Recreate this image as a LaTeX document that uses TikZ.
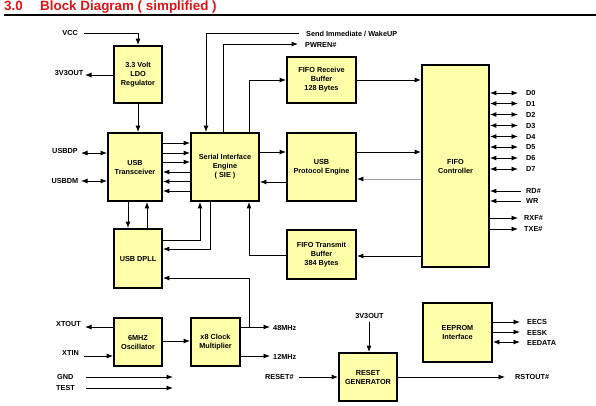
\documentclass[tikz,border=0pt]{standalone}
\usepackage{fontspec}
\setmainfont{Liberation Sans}
\usetikzlibrary{arrows.meta}
\definecolor{blkfill}{RGB}{255,255,170}
\definecolor{titlered}{RGB}{228,18,18}
\begin{document}
\begin{tikzpicture}[x=1pt,y=-1pt,
  blk/.style={draw,line width=1.8pt,fill=blkfill,align=center,font=\fontsize{7.3}{9}\selectfont\bfseries,inner sep=0pt},
  lbl/.style={font=\fontsize{7.3}{9}\selectfont\bfseries,inner sep=0pt},
  arr/.style={line width=0.9pt,-{Latex[length=6.5pt,width=5pt]}},
  darr/.style={line width=0.9pt,{Latex[length=6.5pt,width=5pt]}-{Latex[length=6.5pt,width=5pt]}},
  ttl/.style={font=\fontsize{13.4}{15}\selectfont\bfseries,text=titlered,inner sep=0pt,anchor=base west}]
\useasboundingbox (0,0) rectangle (596,405);
% title
\node[ttl] (tnum) at (4,10.5) {3.0};
\node[ttl] (ttext) at (40,10.5) {Block Diagram ( simplified )};
\coordinate (r1) at (4,14.5);
\coordinate (r2) at (596,14.5);
\draw[line width=2pt] (r1) -- (r2);
% blocks
\node[blk,minimum width=48pt,minimum height=57pt] (ldo) at (138,74.5) {3.3 Volt\\LDO\\Regulator};
\node[blk,minimum width=54pt,minimum height=68pt] (usbt) at (135,167) {USB\\Transceiver};
\node[blk,minimum width=68pt,minimum height=68pt] (sie) at (225,167) {Serial Interface\\Engine\\( SIE )};
\node[blk,minimum width=48pt,minimum height=59pt] (dpll) at (138,258.5) {USB DPLL};
\node[blk,minimum width=69pt,minimum height=46pt] (rx) at (321.5,80) {FIFO Receive\\Buffer\\128 Bytes};
\node[blk,minimum width=69pt,minimum height=68pt] (pe) at (321.5,167) {USB\\Protocol Engine};
\node[blk,minimum width=69pt,minimum height=49pt] (tx) at (321.5,254.5) {FIFO Transmit\\Buffer\\384 Bytes};
\node[blk,minimum width=67pt,minimum height=202pt] (fifo) at (455.5,166) {FIFO\\Controller};
\node[blk,minimum width=48pt,minimum height=48pt] (osc) at (138,342) {6MHZ\\Oscillator};
\node[blk,minimum width=49pt,minimum height=48pt] (mult) at (215.5,342) {x8 Clock\\Multiplier};
\node[blk,minimum width=58pt,minimum height=48pt] (rst) at (368,377) {RESET\\GENERATOR};
\node[blk,minimum width=69pt,minimum height=59pt] (eep) at (457.5,332.5) {EEPROM\\Interface};
% labels
\node[lbl,anchor=east] (lvcc) at (78,33) {VCC};
\node[lbl,anchor=east] (l3v3) at (83.5,73) {3V3OUT};
\node[lbl,anchor=east] (ldp) at (78,150.5) {USBDP};
\node[lbl,anchor=east] (ldm) at (78.5,180.5) {USBDM};
\node[lbl,anchor=west] (lsend) at (306,33.5) {Send Immediate / WakeUP};
\node[lbl,anchor=west] (lpwr) at (305,44.5) {PWREN\#};
\node[lbl,anchor=east] (lxo) at (81,324) {XTOUT};
\node[lbl,anchor=east] (lxi) at (79,353) {XTIN};
\node[lbl,anchor=west] (lgnd) at (57,376.5) {GND};
\node[lbl,anchor=west] (ltest) at (56,387.5) {TEST};
\node[lbl,anchor=west] (l48) at (273,327.5) {48MHz};
\node[lbl,anchor=west] (l12) at (273,356.5) {12MHz};
\node[lbl,anchor=west] (lres) at (265,376.5) {RESET\#};
\node[lbl] (l3v3b) at (369.5,315.5) {3V3OUT};
\node[lbl,anchor=west] (lrso) at (515,377) {RSTOUT\#};
\node[lbl,anchor=west] (lcs) at (527,322) {EECS};
\node[lbl,anchor=west] (lsk) at (527,332.5) {EESK};
\node[lbl,anchor=west] (lda) at (527,343) {EEDATA};
\node[lbl,anchor=west] (lrd) at (526,191) {RD\#};
\node[lbl,anchor=west] (lwr) at (526,201) {WR};
\node[lbl,anchor=west] (lrxf) at (524,218) {RXF\#};
\node[lbl,anchor=west] (ltxe) at (524,228.5) {TXE\#};
\foreach \i/\y in {0/93,1/103.5,2/114.5,3/125.5,4/136.5,5/147,6/158,7/169}{
  \node[lbl,anchor=west] (ld\i) at (526,\y) {D\i};
  \coordinate (d\i) at (518,\y);
  \draw[darr] (fifo.east |- d\i) -- (d\i);
}
% free ends
\coordinate (vcc) at (84,33);
\coordinate (v3o) at (85,75);
\coordinate (dp) at (81,153);
\coordinate (dm) at (81,181);
\coordinate (send) at (299,33);
\coordinate (pwren) at (298,44);
\coordinate (xo) at (85,327);
\coordinate (xi) at (84,356);
\coordinate (g1) at (86,377);
\coordinate (g2) at (173,377);
\coordinate (t1) at (86,388);
\coordinate (t2) at (173,388);
\coordinate (f48) at (270,327);
\coordinate (f12) at (270,356);
\coordinate (j48) at (249,327);
\coordinate (res) at (299,377);
\coordinate (rso) at (505,377);
\coordinate (v3b) at (369,322);
\coordinate (rdx) at (521,191);
\coordinate (wrx) at (521,201);
\coordinate (rxf) at (518,218);
\coordinate (txe) at (518,229);
\coordinate (ecs) at (520,322);
\coordinate (esk) at (520,332);
\coordinate (eda) at (520,342);
% connectors
\draw[arr] (vcc) -| (ldo.north);
\draw[arr] (ldo.west |- v3o) -- (v3o);
\draw[arr] (ldo.south) -- (usbt.north -| ldo.south);
\draw[darr] (dp) -- (usbt.west |- dp);
\draw[darr] (dm) -- (usbt.west |- dm);
\foreach \y in {143,153,162}{\draw[arr] (usbt.east |- 0,\y) -- (sie.west |- 0,\y);}
\foreach \y in {172,181.5,191}{\draw[arr] (sie.west |- 0,\y) -- (usbt.east |- 0,\y);}
\draw[arr] (usbt.south -| 128,0) -- (dpll.north -| 128,0);
\draw[arr] (dpll.north -| 147,0) -- (usbt.south -| 147,0);
\draw[arr] (dpll.east |- 0,240) -| (sie.south -| 200,0);
\draw[arr] (sie.south -| 210,0) |- (dpll.east |- 0,249);
\draw[arr] (send) -| (sie.north -| 206,0);
\draw[arr] (sie.north -| 223,0) |- (pwren);
\draw[arr] (sie.north -| 249,0) |- (rx.west);
\draw[arr] (rx.east) -- (fifo.west |- rx.east);
\draw[arr] (sie.east |- 0,152) -- (pe.west |- 0,152);
\draw[arr] (pe.west |- 0,182) -- (sie.east |- 0,182);
\draw[arr] (pe.east |- 0,152) -- (fifo.west |- 0,152);
\draw[line width=0.9pt,draw=gray!75,-{Latex[length=6.5pt,width=5pt,color=black]}] (fifo.west |- 0,179) -- (pe.east |- 0,179);
\draw[arr] (fifo.west |- 0,256) -- (tx.east |- 0,256);
\draw[arr] (tx.west |- 0,255) -| (sie.south -| 249,0);
\draw[arr] (rdx) -- (fifo.east |- rdx);
\draw[arr] (wrx) -- (fifo.east |- wrx);
\draw[arr] (fifo.east |- rxf) -- (rxf);
\draw[arr] (fifo.east |- txe) -- (txe);
\draw[arr] (osc.west |- xo) -- (xo);
\draw[arr] (xi) -- (osc.west |- xi);
\draw[arr] (osc.east |- 0,341) -- (mult.west |- 0,341);
\draw[arr] (mult.east |- f48) -- (f48);
\draw[arr] (mult.east |- f12) -- (f12);
\draw[arr] (j48) |- (dpll.east |- 0,278);
\draw[arr] (g1) -- (g2);
\draw[arr] (t1) -- (t2);
\draw[arr] (v3b) -- (rst.north -| v3b);
\draw[arr] (res) -- (rst.west |- res);
\draw[arr] (rst.east |- rso) -- (rso);
\draw[arr] (eep.east |- ecs) -- (ecs);
\draw[arr] (eep.east |- esk) -- (esk);
\draw[darr] (eep.east |- eda) -- (eda);
\end{tikzpicture}
\end{document}
